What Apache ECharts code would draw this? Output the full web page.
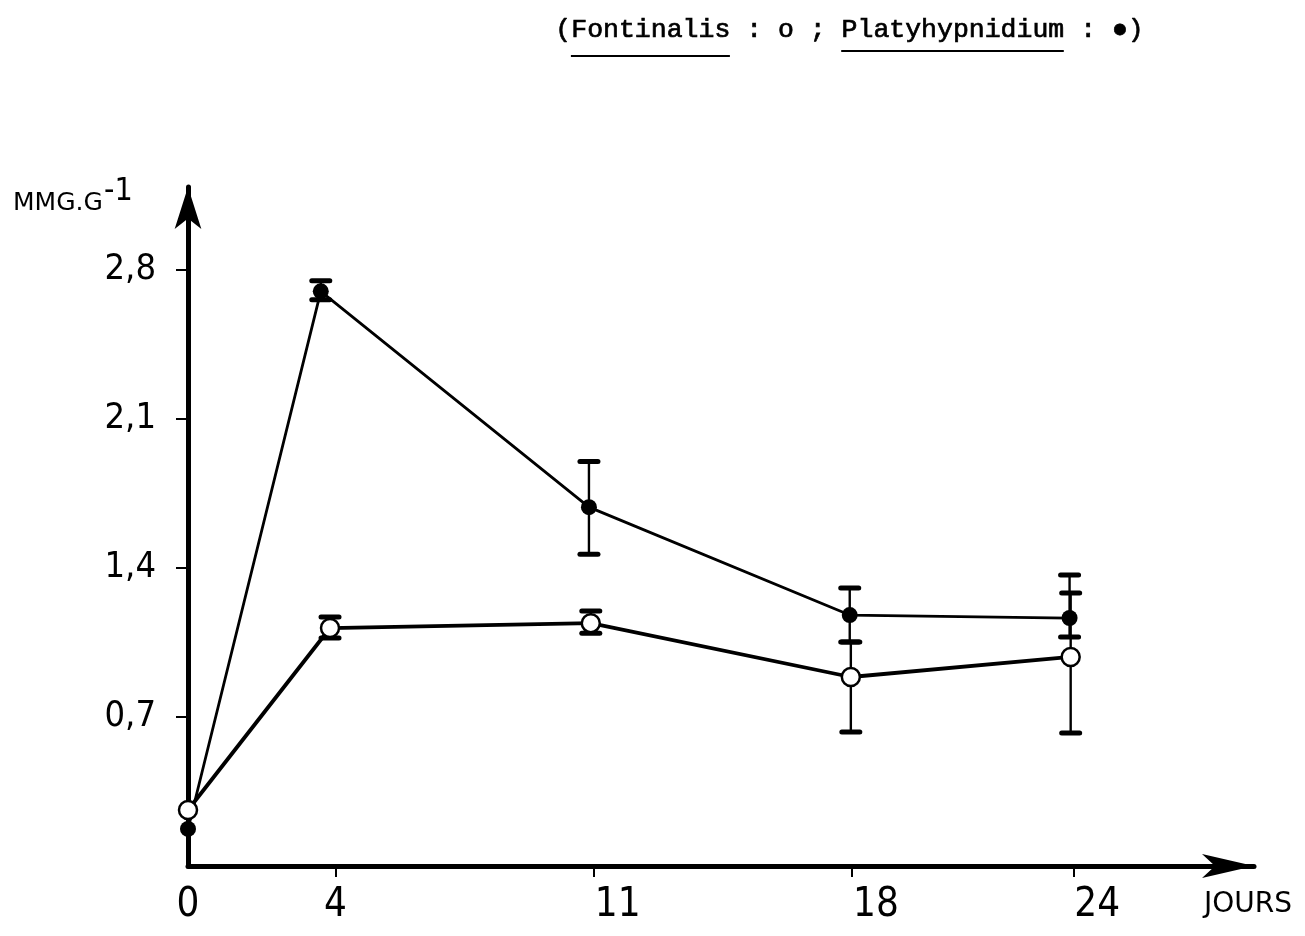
<!DOCTYPE html>
<html>
<head>
<meta charset="utf-8">
<script src="https://cdn.jsdelivr.net/npm/echarts@6/dist/echarts.min.js"></script>
<style>
html,body{margin:0;padding:0;background:#fff;}
#chart{width:1305px;height:936px;}
</style>
</head>
<body>
<div id="chart"></div>
<script>
// ---- data ----
const daysPlaty = [0, 3.6, 10.87, 17.94, 23.9];
const platyValues = [0.174, 2.70, 1.686, 1.179, 1.165];
const platyLow = [null, 2.66, 1.465, 1.052, 1.076];
const platyHigh = [null, 2.75, 1.90, 1.306, 1.367];

const daysFont = [0, 3.85, 10.92, 17.97, 23.93];
const fontValues = [0.263, 1.118, 1.141, 0.888, 0.982];
const fontLow = [null, 1.071, 1.094, 0.629, 0.625];
const fontHigh = [null, 1.17, 1.198, 1.052, 1.282];

const xTickValues = [4, 11, 18, 24];
const xLabelValues = [0, 4, 11, 18, 24];
const yTickValues = [0.7, 1.4, 2.1, 2.8];

const titleText = '(Fontinalis : o ; Platyhypnidium : \u25CF)';
const yName = 'MMG.G';
const yNameSup = '-1';
const xName = 'JOURS';

// ---- build ----
function pairs(xs, ys) { return xs.map((x, i) => [x, ys[i]]); }
function errData(xs, lo, hi) {
  const out = [];
  xs.forEach((x, i) => { if (lo[i] != null) out.push([x, lo[i], hi[i]]); });
  return out;
}
const errAll = errData(daysPlaty, platyLow, platyHigh).concat(errData(daysFont, fontLow, fontHigh));

const labelFont = "'Liberation Sans Narrow','DejaVu Sans Condensed','DejaVu Sans',sans-serif";
const chart = echarts.init(document.getElementById('chart'), null, {renderer: 'canvas'});

const charW = 15.9, titleLeft = 555;
chart.setOption({
  backgroundColor: '#ffffff',
  animation: false,
  grid: {left: 188, right: 51, top: 187, bottom: 70, containLabel: false, outerBoundsMode: 'none'},
  xAxis: {
    type: 'value', min: 0, max: 28.9,
    splitLine: {show: false},
    axisLine: {show: true, onZero: false, lineStyle: {color: '#000', width: 5},
      symbol: ['none', 'arrow'], symbolSize: [18, 52], symbolOffset: [0, 0]},
    axisTick: {show: true, customValues: xTickValues, length: 11, lineStyle: {color: '#000', width: 2}},
    axisLabel: {
      show: true, customValues: xLabelValues, margin: 20, color: '#000',
      fontFamily: labelFont, fontSize: 40,
      formatter: v => (v >= 11 ? '{r|' + v + '}' : '{n|' + v + '}'),
      rich: {
        n: {fontFamily: labelFont, fontSize: 40, color: '#000'},
        r: {fontFamily: labelFont, fontSize: 40, color: '#000', padding: [0, 0, 0, 48]}
      }
    }
  },
  yAxis: {
    type: 'value', min: 0, max: 3.19,
    splitLine: {show: false},
    axisLine: {show: true, onZero: false, lineStyle: {color: '#000', width: 5},
      symbol: ['none', 'arrow'], symbolSize: [20, 42]},
    axisTick: {show: true, customValues: yTickValues, length: 12, lineStyle: {color: '#000', width: 2}},
    axisLabel: {
      show: true, customValues: yTickValues, margin: 32, color: '#000',
      fontFamily: labelFont, fontSize: 36,
      formatter: v => v.toFixed(1).replace('.', ',')
    }
  },
  graphic: [
    {type: 'text', left: titleLeft, top: 16, style: {text: titleText, fontFamily: "'Liberation Mono',monospace", fontSize: 26.5, fill: '#000', stroke: '#000', lineWidth: 0.7}},
    {type: 'line', shape: {x1: titleLeft + charW * 1, y1: 56, x2: titleLeft + charW * 11, y2: 56}, style: {stroke: '#000', lineWidth: 2.2}},
    {type: 'line', shape: {x1: titleLeft + charW * 18, y1: 51, x2: titleLeft + charW * 32, y2: 51}, style: {stroke: '#000', lineWidth: 2.2}},
    {type: 'text', left: 13, top: 191, style: {text: yName, fontFamily: "'DejaVu Sans',sans-serif", fontSize: 25, fill: '#000'}},
    {type: 'text', left: 104, top: 176, style: {text: yNameSup, fontFamily: labelFont, fontSize: 32, fill: '#000'}},
    {type: 'text', left: 1204, top: 891, style: {text: xName, fontFamily: "'DejaVu Sans',sans-serif", fontSize: 28, fill: '#000'}}
  ],
  series: [
    {
      type: 'custom', z: 1, data: errAll,
      renderItem: function (params, api) {
        const x = api.value(0);
        const lo = api.coord([x, api.value(1)]);
        const hi = api.coord([x, api.value(2)]);
        const cw = 9;
        return {
          type: 'group',
          children: [
            {type: 'line', shape: {x1: lo[0], y1: lo[1], x2: hi[0], y2: hi[1]}, style: {stroke: '#000', lineWidth: 2.4}},
            {type: 'line', shape: {x1: lo[0] - cw, y1: lo[1], x2: lo[0] + cw, y2: lo[1]}, style: {stroke: '#000', lineWidth: 5, lineCap: 'round'}},
            {type: 'line', shape: {x1: hi[0] - cw, y1: hi[1], x2: hi[0] + cw, y2: hi[1]}, style: {stroke: '#000', lineWidth: 5, lineCap: 'round'}}
          ]
        };
      }
    },
    {
      name: 'Platyhypnidium', type: 'line', z: 3, data: pairs(daysPlaty, platyValues),
      symbol: 'circle', symbolSize: 16, showAllSymbol: true,
      lineStyle: {color: '#000', width: 2.8},
      itemStyle: {color: '#000', borderColor: '#000', borderWidth: 0}
    },
    {
      name: 'Fontinalis', type: 'line', z: 4, data: pairs(daysFont, fontValues),
      symbol: 'circle', symbolSize: 18, showAllSymbol: true,
      lineStyle: {color: '#000', width: 3.8},
      itemStyle: {color: '#fff', borderColor: '#000', borderWidth: 2.5}
    }
  ]
});
</script>
</body>
</html>
